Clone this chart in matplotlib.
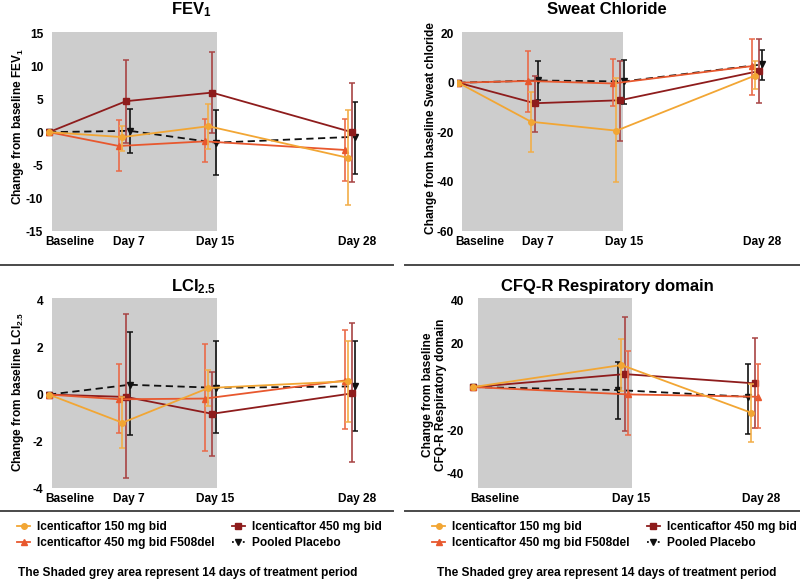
import numpy as np
import matplotlib
matplotlib.use("Agg")
import matplotlib.pyplot as plt
from matplotlib.lines import Line2D

plt.rcParams['font.family'] = ['Liberation Sans', 'DejaVu Sans']
plt.rcParams['font.weight'] = 'bold'
plt.rcParams['mathtext.fontset'] = 'custom'
plt.rcParams['mathtext.rm'] = 'Liberation Sans:bold'
plt.rcParams['mathtext.bf'] = 'Liberation Sans:bold'
plt.rcParams['mathtext.it'] = 'Liberation Sans:bold'

# ---------------- data ----------------
series_names = ["Icenticaftor 150 mg bid", "Icenticaftor 450 mg bid",
                "Icenticaftor 450 mg bid F508del", "Pooled Placebo"]
visit_labels4 = ["Baseline", "Day 7", "Day 15", "Day 28"]
visit_days4 = [0, 7, 15, 28]
visit_labels3 = ["Baseline", "Day 15", "Day 28"]
visit_days3 = [0, 15, 28]

# FEV1
fev_150 = [0, -0.75, 0.9, -3.9]
fev_150_lo = [0, -2.8, -2.6, -11.1]
fev_150_hi = [0, 1.0, 4.2, 3.4]
fev_450 = [0, 4.7, 6.0, 0.0]
fev_450_lo = [0, -1.6, -0.2, -7.5]
fev_450_hi = [0, 11.0, 12.2, 7.4]
fev_f508 = [0, -2.1, -1.4, -2.7]
fev_f508_lo = [0, -5.9, -4.5, -7.4]
fev_f508_hi = [0, 1.8, 2.0, 2.0]
fev_pbo = [0, 0.2, -1.6, -0.7]
fev_pbo_lo = [0, -3.1, -6.5, -6.3]
fev_pbo_hi = [0, 3.5, 3.4, 4.5]

# Sweat chloride
sc_150 = [0, -15.8, -19.4, 2.9]
sc_150_lo = [0, -27.9, -40.2, -2.4]
sc_150_hi = [0, -3.8, 2.0, 8.7]
sc_450 = [0, -8.3, -7.1, 4.7]
sc_450_lo = [0, -20.1, -23.4, -8.4]
sc_450_hi = [0, 2.9, 8.7, 17.8]
sc_f508 = [0, 0.7, -0.3, 6.7]
sc_f508_lo = [0, -12.0, -9.4, -5.0]
sc_f508_hi = [0, 12.7, 9.4, 17.8]
sc_pbo = [0, 0.9, 0.5, 7.4]
sc_pbo_lo = [0, -7.0, -8.7, 1.3]
sc_pbo_hi = [0, 8.7, 9.0, 13.1]

# LCI2.5
lci_150 = [0, -1.2, 0.28, 0.57]
lci_150_lo = [0, -2.27, -0.5, -1.16]
lci_150_hi = [0, -0.1, 1.03, 2.3]
lci_450 = [0, -0.1, -0.82, 0.05]
lci_450_lo = [0, -3.57, -2.62, -2.88]
lci_450_hi = [0, 3.45, 0.95, 3.05]
lci_f508 = [0, -0.2, -0.17, 0.6]
lci_f508_lo = [0, -1.63, -2.41, -1.46]
lci_f508_hi = [0, 1.32, 2.15, 2.74]
lci_pbo = [0, 0.42, 0.29, 0.35]
lci_pbo_lo = [0, -1.74, -1.66, -1.56]
lci_pbo_hi = [0, 2.67, 2.27, 2.27]

# CFQ-R respiratory domain
cfq_150 = [0, 10.2, -11.9]
cfq_150_lo = [0, -1.8, -25.3]
cfq_150_hi = [0, 22.2, 1.5]
cfq_450 = [0, 6.0, 1.7]
cfq_450_lo = [0, -20.2, -19.1]
cfq_450_hi = [0, 32.6, 22.8]
cfq_f508 = [0, -3.4, -4.5]
cfq_f508_lo = [0, -22.2, -18.8]
cfq_f508_hi = [0, 16.8, 10.5]
cfq_pbo = [0, -1.4, -4.5]
cfq_pbo_lo = [0, -15.0, -21.8]
cfq_pbo_hi = [0, 11.4, 10.8]

# ---------------- styles ----------------
styles = {
    "Icenticaftor 150 mg bid": dict(color='#F2A634', ecolor='#F2AE48', marker='o', ms=4.0, ls='-'),
    "Icenticaftor 450 mg bid": dict(color='#8E1C1C', ecolor='#A84444', marker='s', ms=4.2, ls='-'),
    "Icenticaftor 450 mg bid F508del": dict(color='#E8582E', ecolor='#EA6A48', marker='^', ms=4.2, ls='-'),
    "Pooled Placebo": dict(color='#111111', ecolor='#111111', marker='v', ms=4.2, ls=(0, (4, 2.5))),
}
zorders = {"Pooled Placebo": 3, "Icenticaftor 450 mg bid": 4,
           "Icenticaftor 450 mg bid F508del": 5, "Icenticaftor 150 mg bid": 6}

W, H = 800, 580
fig = plt.figure(figsize=(8, 5.8), dpi=100)


def rect(l, t, r, b):
    return [l / W, 1 - b / H, (r - l) / W, (b - t) / H]


def panel(pos, days, labels, data, xlim, ylim, yticks, shade, label_pos, order):
    ax = fig.add_axes(rect(*pos))
    ax.set_xlim(*xlim)
    ax.set_ylim(*ylim)
    ax.axvspan(shade[0], shade[1], color='#CDCDCD', zorder=0, lw=0)
    offsets = dict(zip(order, [-0.5, -0.17, 0.17, 0.5]))
    days = np.array(days, dtype=float)
    for name in series_names:
        y, lo, hi = (np.array(a, dtype=float) for a in data[name])
        st = styles[name]
        x = days + np.where(days > 0, offsets[name], 0.0)
        z = zorders[name]
        ax.errorbar(x[1:], y[1:], yerr=[y[1:] - lo[1:], hi[1:] - y[1:]], fmt='none',
                    ecolor=st['ecolor'], elinewidth=1.2, capsize=2.4, capthick=1.1,
                    zorder=z - 0.5)
        ax.plot(x, y, color=st['color'], ls=st['ls'], lw=1.3, marker=st['marker'],
                ms=st['ms'], mfc=st['color'], mec=st['color'], zorder=z)
    for s in ax.spines.values():
        s.set_visible(False)
    ax.set_xticks(label_pos)
    ax.set_xticklabels(labels, fontsize=8.6, fontweight='bold')
    ax.set_yticks(yticks)
    ax.set_yticklabels([str(v) for v in yticks], fontsize=8.6, fontweight='bold')
    ax.tick_params(length=0, axis='y', pad=2)
    ax.tick_params(length=0, axis='x', pad=3.5)
    return ax


def d(a, b, c, dd):
    return {series_names[0]: a, series_names[1]: b, series_names[2]: c, series_names[3]: dd}


order_main = [series_names[2], series_names[0], series_names[1], series_names[3]]
order_cfq = [series_names[3], series_names[0], series_names[1], series_names[2]]

# FEV1
panel((46, 32.3, 365, 231), visit_days4, visit_labels4,
      d((fev_150, fev_150_lo, fev_150_hi), (fev_450, fev_450_lo, fev_450_hi),
        (fev_f508, fev_f508_lo, fev_f508_hi), (fev_pbo, fev_pbo_lo, fev_pbo_hi)),
      (-0.28, 29.4), (-15, 15.15), [-15, -10, -5, 0, 5, 10, 15], (0.25, 15.65),
      [1.95, 7.45, 15.45, 28.65], order_main)

# Sweat chloride
panel((457, 32.3, 775, 231), visit_days4, visit_labels4,
      d((sc_150, sc_150_lo, sc_150_hi), (sc_450, sc_450_lo, sc_450_hi),
        (sc_f508, sc_f508_lo, sc_f508_hi), (sc_pbo, sc_pbo_lo, sc_pbo_hi)),
      (-0.12, 29.7), (-59.5, 20.4), [-60, -40, -20, 0, 20], (0.32, 15.4),
      [2.03, 7.48, 15.54, 28.46], order_main)

# LCI
panel((46, 298.3, 365, 488.3), visit_days4, visit_labels4,
      d((lci_150, lci_150_lo, lci_150_hi), (lci_450, lci_450_lo, lci_450_hi),
        (lci_f508, lci_f508_lo, lci_f508_hi), (lci_pbo, lci_pbo_lo, lci_pbo_hi)),
      (-0.28, 29.4), (-3.97, 4.11), [-4, -2, 0, 2, 4], (0.25, 15.65),
      [1.95, 7.45, 15.45, 28.65], order_main)

# CFQ-R
panel((467, 298.3, 775, 487.7), visit_days3, visit_labels3,
      d((cfq_150, cfq_150_lo, cfq_150_hi), (cfq_450, cfq_450_lo, cfq_450_hi),
        (cfq_f508, cfq_f508_lo, cfq_f508_hi), (cfq_pbo, cfq_pbo_lo, cfq_pbo_hi)),
      (-0.63, 30.2), (-46.6, 41.1), [-40, -20, 20, 40], (0.5, 15.84),
      [2.17, 15.84, 28.84], order_cfq)

# titles
def ftext(x, y, s, **kw):
    fig.text(x / W, 1 - y / H, s, ha='center', va='center', fontweight='bold', **kw)

ftext(191.7, 10, r'FEV$_\mathbf{1}$', fontsize=12)
ftext(606.7, 10, 'Sweat Chloride', fontsize=12)
ftext(193, 287, r'LCI$_\mathbf{2.5}$', fontsize=12)
ftext(607, 287, 'CFQ-R Respiratory domain', fontsize=12)

# y labels
ftext(18, 126, r'Change from baseline FEV$_\mathbf{1}$', fontsize=8.6, rotation=90)
ftext(431, 128, 'Change from baseline Sweat chloride', fontsize=8.6, rotation=90)
ftext(18, 392, r'Change from baseline LCI$_\mathbf{2.5}$', fontsize=8.6, rotation=90)
ftext(434.5, 395, 'Change from baseline\nCFQ-R Respiratory domain', fontsize=8.6,
      rotation=90, multialignment='center', linespacing=1.05)

# separators
for (x0, x1) in [(0, 393), (405, 800)]:
    for yy in (265, 511):
        fig.add_artist(Line2D([x0 / W, x1 / W], [1 - yy / H, 1 - yy / H],
                              transform=fig.transFigure, color='#4a4a4a', lw=1.4))

# legends
handles = []
for name in [series_names[0], series_names[2], series_names[1], series_names[3]]:
    st = styles[name]
    ls = (0, (1, 2)) if name == "Pooled Placebo" else '-'
    handles.append(Line2D([], [], color=st['color'], ls=ls, lw=1.3, marker=st['marker'],
                          ms=st['ms'], mfc=st['color'], mec=st['color'], label=name))

for (lx, cx) in [(17, 188), (432, 607)]:
    fig.legend(handles=handles, loc='upper left', bbox_to_anchor=(lx / W, 1 - 521 / H),
               ncol=2, frameon=False, borderpad=0, borderaxespad=0, handlelength=1.1,
               handletextpad=0.6, columnspacing=1.4, labelspacing=0.35,
               prop={'weight': 'bold', 'size': 8.6})
    ftext(cx, 573, 'The Shaded grey area represent 14 days of treatment period', fontsize=8.6)

fig.savefig('out.png', dpi=100)
